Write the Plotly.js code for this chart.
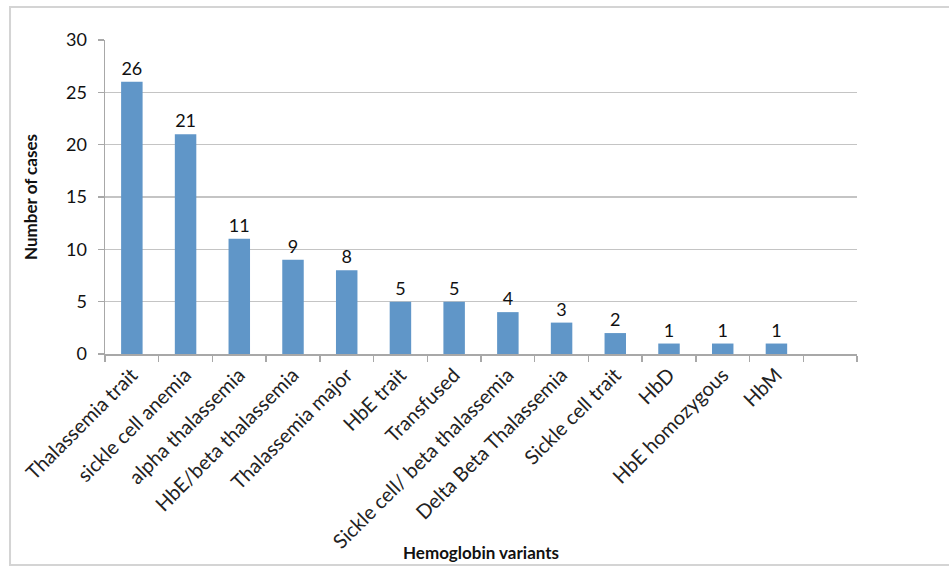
<!DOCTYPE html>
<html>
<head>
<meta charset="utf-8">
<script src="https://cdn.plot.ly/plotly-3.0.1.min.js"></script>
<style>html,body{margin:0;padding:0;background:#fff;}#chart{width:949px;height:568px;}</style>
</head>
<body>
<div id="chart"></div>
<script>
const categories = ["Thalassemia trait", "sickle cell anemia", "alpha thalassemia", "HbE/beta thalassemia", "Thalassemia major", "HbE trait", "Transfused", "Sickle cell/ beta thalassemia", "Delta Beta Thalassemia", "Sickle cell trait", "HbD", "HbE homozygous", "HbM"];
const cases = [26, 21, 11, 9, 8, 5, 5, 4, 3, 2, 1, 1, 1];
const yTicks = [0, 5, 10, 15, 20, 25, 30];
const xTitle = 'Hemoglobin variants';
const yTitle = 'Number of cases';

const font = "Lato, 'Open Sans', 'DejaVu Sans', sans-serif";
const trace = {
  type: 'bar',
  x: categories,
  y: cases,
  text: cases.map(String),
  textposition: 'outside',
  cliponaxis: false,
  textfont: {family: font, size: 18, color: '#111'},
  marker: {color: '#6096c8', line: {width: 0}},
  hoverinfo: 'x+y'
};

const layout = {
  width: 949, height: 568,
  margin: {l: 105, r: 92, t: 40, b: 214},
  paper_bgcolor: '#fff', plot_bgcolor: '#fff',
  showlegend: false,
  bargap: 0.6,
  font: {family: font, size: 15, color: '#222'},
  xaxis: {
    type: 'category',
    categoryorder: 'array',
    categoryarray: categories.concat([' ']),
    range: [-0.5, categories.length + 0.5],
    tickangle: -45,
    ticks: 'outside', tickson: 'boundaries', ticklen: 6, tickcolor: '#a8a8a8', tickwidth: 1.5,
    showline: true, linecolor: '#a8a8a8', linewidth: 1.5,
    showgrid: false,
    tickfont: {family: font, size: 20, color: '#222'},
    automargin: false
  },
  yaxis: {
    range: [0, 30],
    tickvals: yTicks,
    ticks: 'outside', ticklen: 6, tickcolor: '#a8a8a8', tickwidth: 1.5,
    ticklabelstandoff: 7,
    showline: true, linecolor: '#a8a8a8', linewidth: 1.5,
    showgrid: true, gridcolor: '#c4c4c4', gridwidth: 1.5,
    zeroline: false,
    tickfont: {family: font, size: 18, color: '#111'},
    title: {text: '<b>' + yTitle + '</b>', font: {family: font, size: 17, color: '#111'}, standoff: 24},
    automargin: false
  },
  annotations: [{
    text: '<b>' + xTitle + '</b>', xref: 'paper', yref: 'paper',
    x: 0.5, y: -0.6306, xanchor: 'center', yanchor: 'middle', showarrow: false,
    font: {family: font, size: 17, color: '#111'}
  }],
  shapes: [{
    type: 'rect', xref: 'paper', yref: 'paper',
    x0: -0.1263, x1: 1.2, y0: -0.672, y1: 1.105,
    line: {color: '#d4d4d4', width: 2}, fillcolor: 'rgba(0,0,0,0)', layer: 'below'
  }]
};

Plotly.newPlot('chart', [trace], layout, {displayModeBar: false, staticPlot: true});
</script>
</body>
</html>
